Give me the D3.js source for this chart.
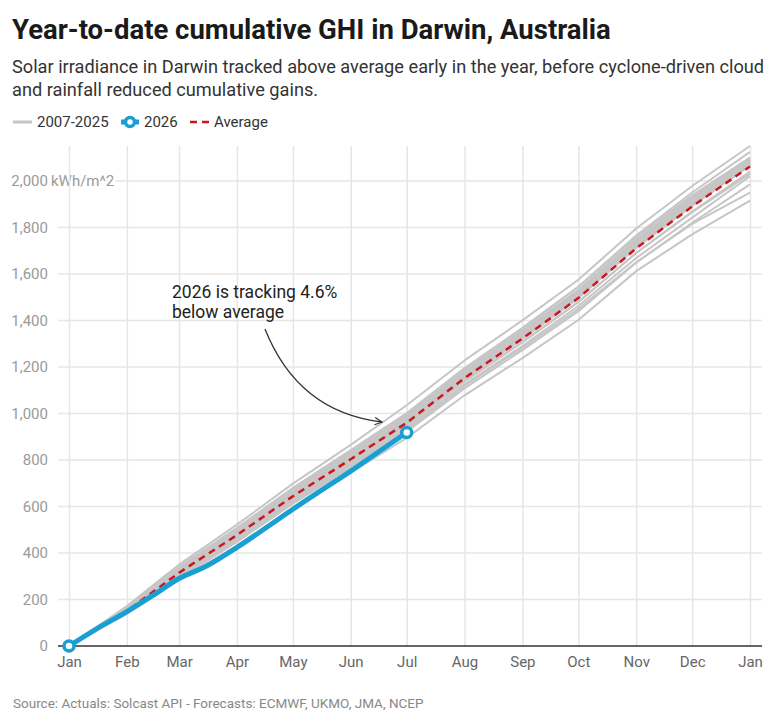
<!DOCTYPE html>
<html>
<head>
<meta charset="utf-8">
<script src="https://cdn.jsdelivr.net/npm/d3@7"></script>
<style>
  body { margin: 0; background: #fff; }
  text { font-family: Roboto, "Noto Sans", sans-serif; }
</style>
</head>
<body>
<div id="chart"></div>
<script>
// month starts, Jan 2026 .. Jan 2027
var months = ['2026-01-01', '2026-02-01', '2026-03-01', '2026-04-01', '2026-05-01', '2026-06-01', '2026-07-01',
  '2026-08-01', '2026-09-01', '2026-10-01', '2026-11-01', '2026-12-01', '2027-01-01'];

// cumulative GHI (kWh/m^2) at each month start
var years = ['2007', '2008', '2009', '2010', '2011', '2012', '2013', '2014', '2015', '2016',
  '2017', '2018', '2019', '2020', '2021', '2022', '2023', '2024', '2025'];
var pastValues = [
  [0, 165, 335, 500, 672, 835, 995, 1190, 1365, 1545, 1765, 1950, 2125],
  [0, 158, 322, 488, 660, 822, 985, 1180, 1352, 1528, 1745, 1925, 2095],
  [0, 172, 350, 522, 698, 865, 1035, 1228, 1400, 1575, 1795, 1978, 2150],
  [0, 145, 305, 465, 630, 790, 948, 1138, 1305, 1478, 1690, 1868, 2040],
  [0, 140, 290, 448, 612, 768, 922, 1108, 1272, 1440, 1648, 1820, 1985],
  [0, 160, 330, 496, 665, 826, 985, 1178, 1350, 1525, 1742, 1920, 2090],
  [0, 152, 318, 482, 650, 810, 968, 1160, 1332, 1508, 1722, 1902, 2075],
  [0, 148, 312, 475, 642, 800, 958, 1150, 1320, 1496, 1712, 1892, 2065],
  [0, 138, 285, 430, 592, 745, 895, 1078, 1238, 1402, 1612, 1770, 1915],
  [0, 162, 328, 492, 662, 822, 980, 1172, 1345, 1520, 1735, 1912, 2082],
  [0, 155, 320, 485, 652, 812, 970, 1162, 1335, 1510, 1725, 1905, 2078],
  [0, 150, 314, 478, 645, 805, 962, 1155, 1325, 1500, 1715, 1895, 2070],
  [0, 168, 340, 508, 680, 842, 1002, 1195, 1368, 1545, 1760, 1938, 2100],
  [0, 146, 308, 470, 636, 795, 950, 1140, 1308, 1480, 1690, 1865, 2030],
  [0, 142, 300, 460, 625, 782, 938, 1125, 1290, 1462, 1668, 1842, 2020],
  [0, 157, 324, 490, 658, 818, 976, 1168, 1340, 1515, 1730, 1908, 2085],
  [0, 144, 296, 455, 618, 775, 930, 1118, 1282, 1450, 1650, 1815, 1950],
  [0, 153, 316, 480, 648, 808, 966, 1158, 1330, 1505, 1720, 1898, 2072],
  [0, 160, 332, 498, 668, 830, 990, 1184, 1356, 1532, 1750, 1930, 2100]
];
var averageValues = [0, 150, 315, 477, 644, 803, 960, 1152, 1322, 1496, 1710, 1890, 2062];

// 2026 so far, twice a month
var dates2026 = ['2026-01-01', '2026-01-16', '2026-02-01', '2026-02-15', '2026-03-01', '2026-03-16', '2026-04-01',
  '2026-04-16', '2026-05-01', '2026-05-16', '2026-06-01', '2026-06-16', '2026-07-01'];
var values2026 = [0, 75, 148, 218, 290, 345, 424, 505, 588, 668, 752, 835, 918];

var yTicks = [0, 200, 400, 600, 800, 1000, 1200, 1400, 1600, 1800, 2000];

var width = 775, height = 725;
var margin = { top: 146, right: 25, bottom: 79, left: 69 };

var parse = d3.timeParse('%Y-%m-%d');
var svg = d3.select('#chart').append('svg')
  .attr('width', width)
  .attr('height', height);

var x = d3.scaleTime()
  .domain([parse(months[0]), parse(months[months.length - 1])])
  .range([margin.left, 750]);
var y = d3.scaleLinear()
  .domain([0, 2150])
  .range([height - margin.bottom, margin.top]);

// titles
svg.append('text').attr('x', 12).attr('y', 39)
  .attr('font-size', '27.5px').attr('font-weight', 'bold').attr('fill', '#1a1a1a')
  .text('Year-to-date cumulative GHI in Darwin, Australia');
svg.append('text').attr('x', 12).attr('y', 73)
  .attr('font-size', '18.2px').attr('fill', '#333')
  .text('Solar irradiance in Darwin tracked above average early in the year, before cyclone-driven cloud');
svg.append('text').attr('x', 12).attr('y', 96)
  .attr('font-size', '18.2px').attr('fill', '#333')
  .text('and rainfall reduced cumulative gains.');

// legend
var lg = svg.append('g').attr('transform', 'translate(0,122)');
lg.append('line').attr('x1', 13).attr('x2', 32).attr('stroke', '#c6c6c6').attr('stroke-width', 3);
lg.append('text').attr('x', 37).attr('y', 5).attr('font-size', '15px').attr('fill', '#333').text('2007-2025');
lg.append('line').attr('x1', 121).attr('x2', 139).attr('stroke', '#18a0d2').attr('stroke-width', 5);
lg.append('circle').attr('cx', 130).attr('cy', 0).attr('r', 4.5)
  .attr('fill', '#fff').attr('stroke', '#18a0d2').attr('stroke-width', 3.5);
lg.append('text').attr('x', 144).attr('y', 5).attr('font-size', '15px').attr('fill', '#333').text('2026');
lg.append('line').attr('x1', 190).attr('x2', 210).attr('stroke', '#d0141c').attr('stroke-width', 2.5)
  .attr('stroke-dasharray', '7,5');
lg.append('text').attr('x', 214).attr('y', 5).attr('font-size', '15px').attr('fill', '#333').text('Average');

// y axis labels + horizontal grid
var yAxisG = svg.append('g');
yTicks.forEach(function (t) {
  yAxisG.append('text')
    .attr('x', 48).attr('y', y(t)).attr('dy', '0.35em')
    .attr('text-anchor', 'end').attr('font-size', '15px').attr('fill', '#9a9a9a')
    .text(d3.format(',')(t));
  var startX = 58;
  if (t === 2000) {
    var unit = yAxisG.append('text')
      .attr('x', 51).attr('y', y(t)).attr('dy', '0.35em')
      .attr('font-size', '15px').attr('fill', '#9a9a9a')
      .text('kWh/m^2');
    startX = 51 + unit.node().getComputedTextLength() + 1;
  }
  if (t > 0) {
    svg.insert('line', ':first-child')
      .attr('x1', startX).attr('x2', 762)
      .attr('y1', y(t)).attr('y2', y(t))
      .attr('stroke', '#e6e6e6').attr('stroke-width', 1.5);
  }
});

// x axis
var xAxis = d3.axisBottom(x)
  .ticks(d3.timeMonth.every(1))
  .tickFormat(d3.timeFormat('%b'))
  .tickSize(-(y(0) - margin.top));
var xAxisG = svg.append('g')
  .attr('transform', 'translate(0,' + y(0) + ')')
  .call(xAxis);
xAxisG.select('.domain').remove();
xAxisG.selectAll('line').attr('stroke', '#e6e6e6').attr('stroke-width', 1.5);
xAxisG.selectAll('text')
  .attr('font-size', '15px').attr('fill', '#666')
  .attr('font-family', 'Roboto, sans-serif')
  .attr('dy', '1.2em');

var line = d3.line()
  .x(function (d) { return x(d.date); })
  .y(function (d) { return y(d.value); });

function toPoints(dates, vals) {
  return vals.map(function (v, i) { return { date: parse(dates[i]), value: v }; });
}

// past years
svg.append('g').selectAll('path')
  .data(years)
  .enter().append('path')
  .attr('d', function (d, i) { return line(toPoints(months, pastValues[i])); })
  .attr('fill', 'none')
  .attr('stroke', '#c6c6c6')
  .attr('stroke-width', 2)
  .attr('stroke-linejoin', 'round');

// average
svg.append('path')
  .attr('d', line(toPoints(months, averageValues)))
  .attr('fill', 'none')
  .attr('stroke', '#d0141c')
  .attr('stroke-width', 2.5)
  .attr('stroke-dasharray', '7,5');

// baseline
svg.append('line')
  .attr('x1', 58).attr('x2', 762)
  .attr('y1', y(0)).attr('y2', y(0))
  .attr('stroke', '#333').attr('stroke-width', 1.5);

// 2026
var pts2026 = toPoints(dates2026, values2026);
svg.append('path')
  .attr('d', line.curve(d3.curveMonotoneX)(pts2026))
  .attr('fill', 'none')
  .attr('stroke', '#18a0d2')
  .attr('stroke-width', 5)
  .attr('stroke-linejoin', 'round')
  .attr('stroke-linecap', 'round');
line.curve(d3.curveLinear);
svg.selectAll('circle.end')
  .data([pts2026[0], pts2026[pts2026.length - 1]])
  .enter().append('circle')
  .attr('class', 'end')
  .attr('cx', function (d) { return x(d.date); })
  .attr('cy', function (d) { return y(d.value); })
  .attr('r', 5)
  .attr('fill', '#fff')
  .attr('stroke', '#18a0d2')
  .attr('stroke-width', 3.5);

// annotation
var note = svg.append('text').attr('font-size', '17.5px').attr('fill', '#222');
note.append('tspan').attr('x', 172).attr('y', 298).text('2026 is tracking 4.6%');
note.append('tspan').attr('x', 172).attr('y', 318).text('below average');

svg.append('defs').append('marker')
  .attr('id', 'arrow')
  .attr('viewBox', '0 0 10 10')
  .attr('refX', 9).attr('refY', 5)
  .attr('markerWidth', 9).attr('markerHeight', 9)
  .attr('markerUnits', 'userSpaceOnUse')
  .attr('orient', 'auto')
  .append('path')
  .attr('d', 'M1,1 L9,5 L1,9')
  .attr('fill', 'none').attr('stroke', '#333').attr('stroke-width', 1.4);
svg.append('path')
  .attr('d', 'M265,329 Q298,412 382,422')
  .attr('fill', 'none')
  .attr('stroke', '#333')
  .attr('stroke-width', 1.3)
  .attr('marker-end', 'url(#arrow)');

// source
svg.append('text').attr('x', 13).attr('y', 708)
  .attr('font-size', '13.5px').attr('fill', '#888')
  .text('Source: Actuals: Solcast API - Forecasts: ECMWF, UKMO, JMA, NCEP');
</script>
</body>
</html>
